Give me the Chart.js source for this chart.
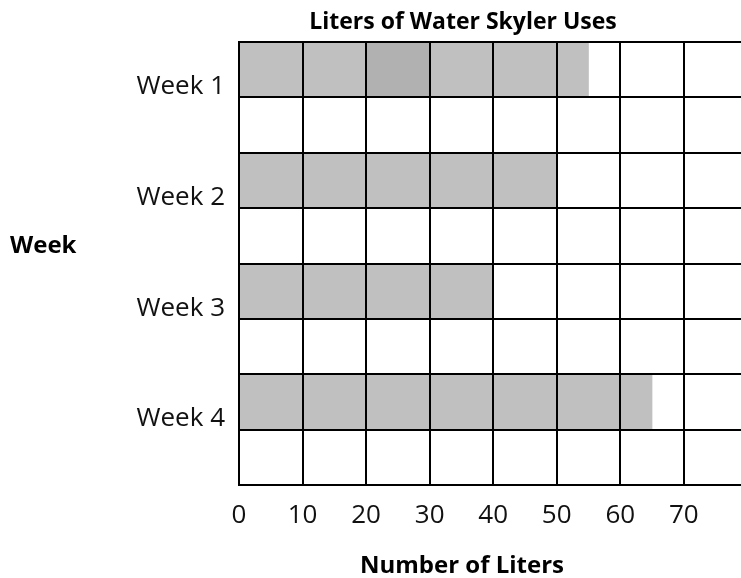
<!DOCTYPE html>
<html>
<head>
<meta charset="utf-8">
<script src="https://cdn.jsdelivr.net/npm/chart.js@4.4.1/dist/chart.umd.min.js"></script>
<style>
  html, body { margin: 0; padding: 0; background: #fff; }
  #wrap { width: 741px; height: 578px; }
</style>
</head>
<body>
<div id="wrap"><canvas id="waterChart"></canvas></div>
<script>
// ============ DATA ============
const weeks = ["Week 1", "Week 2", "Week 3", "Week 4"];
const liters = [55, 50, 40, 65];
// darker cell on week 1 (from 20 to 30)
const shadeWeek = "Week 1";
const shadeRange = [20, 30];
const xTicks = [0, 10, 20, 30, 40, 50, 60, 70];

// every week takes two rows, the second one empty
const rows = [];
const barData = [];
const shadeData = [];
weeks.forEach((w, i) => {
    rows.push(w, "");
    barData.push(liters[i], null);
    shadeData.push(w === shadeWeek ? shadeRange : null, null);
});

const FONT = "'Open Sans', 'Noto Sans', sans-serif";

// titles drawn as plain text (y title is horizontal)
const titlesPlugin = {
    id: "titles",
    afterDraw(chart) {
        const c = chart.ctx;
        const a = chart.chartArea;
        c.save();
        c.fillStyle = "#000";
        c.textAlign = "center";
        c.textBaseline = "alphabetic";
        c.font = "bold 23px " + FONT;
        c.fillText("Liters of Water Skyler Uses", a.left + 224, 29);
        c.font = "bold 24px " + FONT;
        c.fillText("Number of Liters", a.left + 223, 573);
        c.textAlign = "left";
        c.fillText("Week", 10, 253);
        c.restore();
    }
};

new Chart(document.getElementById("waterChart"), {
    type: "bar",
    data: {
        labels: rows,
        datasets: [
            {
                label: "Shade",
                data: shadeData,
                backgroundColor: "#b1b1b1",
                grouped: false,
                order: 0
            },
            {
                label: "Liters",
                data: barData,
                backgroundColor: "#c0c0c0",
                grouped: false,
                order: 1
            }
        ]
    },
    options: {
        indexAxis: "y",
        responsive: true,
        maintainAspectRatio: false,
        animation: false,
        barPercentage: 1,
        categoryPercentage: 1,
        layout: { padding: { top: 42, left: 0, right: 0, bottom: 0 } },
        plugins: {
            legend: { display: false },
            title: { display: false },
            tooltip: { enabled: false }
        },
        scales: {
            x: {
                type: "linear",
                min: 0,
                max: 79,
                afterBuildTicks: axis => {
                    axis.ticks = xTicks.map(v => ({ value: v }));
                },
                afterFit: scale => { scale.height = 93; },
                grid: { color: "#000", lineWidth: 2, drawTicks: false, z: 1 },
                border: { color: "#000", width: 2, z: 1 },
                ticks: {
                    padding: 15,
                    color: "#111",
                    font: { family: FONT, size: 26 }
                }
            },
            y: {
                type: "category",
                afterFit: scale => { scale.width = 239; },
                grid: { color: "#000", lineWidth: 2, drawTicks: false, z: 1 },
                border: { color: "#000", width: 2, z: 1 },
                ticks: {
                    padding: 14,
                    labelOffset: 17,
                    color: "#111",
                    font: { family: FONT, size: 26 }
                }
            }
        }
    },
    plugins: [titlesPlugin]
});
</script>
</body>
</html>
